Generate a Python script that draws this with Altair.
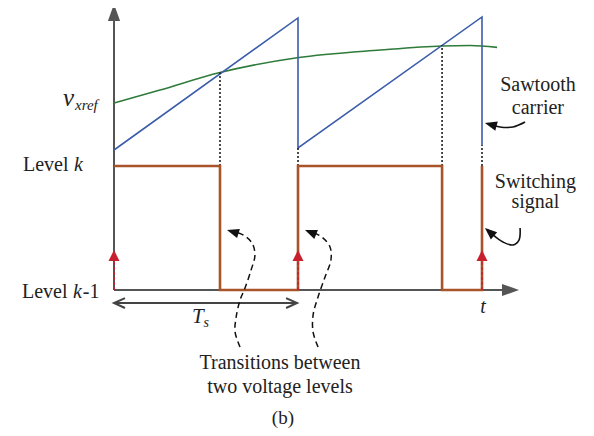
import altair as alt
import pandas as pd

# time axis in switching periods (Ts = 1); signal axis in level units (0 = level k-1, 1 = level k)
ref_t = [0.0, 0.25, 0.576, 0.995, 1.446, 1.783, 1.935, 2.082]
ref_v = [1.508, 1.613, 1.754, 1.873, 1.935, 1.968, 1.972, 1.957]

saw_t = [0.0, 1.0, 1.0, 2.0, 2.0]
saw_v = [1.129, 2.194, 1.145, 2.202, 1.169]

sw_t = [0.0, 0.576, 0.576, 1.0, 1.0, 1.783, 1.783, 2.0, 2.0]
sw_v = [1, 1, 0, 0, 1, 1, 0, 0, 1]

cross_t = [0.576, 1.0, 1.783, 2.0]
cross_v = [1.754, 1.145, 1.973, 1.169]

reset_t = [0.0, 1.0, 2.0]
red_top = 0.24
red_tip = 0.323

axis_t_end = 2.12
axis_v_end = 2.177
axis_t_tip = 2.201
axis_v_tip = 2.306

ts_v = -0.105

c1_t = [0.685, 0.658, 0.663, 0.685, 0.712, 0.745, 0.766, 0.750, 0.701, 0.641]
c1_v = [-0.460, -0.339, -0.226, -0.081, 0.016, 0.161, 0.282, 0.379, 0.444, 0.476]
c2_t = [1.109, 1.082, 1.082, 1.109, 1.147, 1.179, 1.174, 1.130, 1.065]
c2_v = [-0.460, -0.339, -0.202, -0.056, 0.105, 0.242, 0.347, 0.427, 0.476]
dash_tip_t = [0.614, 1.038]
dash_tip_v = [0.484, 0.484]
dash_tip_a = [287, 292]

saw_arrow_t = [2.234, 2.168, 2.098, 2.03]
saw_arrow_v = [1.355, 1.315, 1.315, 1.342]
sw_arrow_t = [2.207, 2.201, 2.168, 2.114, 2.060, 2.028]
sw_arrow_v = [0.5, 0.403, 0.363, 0.387, 0.444, 0.49]
solid_tip_t = [2.016, 2.016]
solid_tip_v = [1.347, 0.5]
solid_tip_a = [285, 311]

BLUE = "#3C5DAA"
GREEN = "#2E7B3A"
BROWN = "#A9532A"
RED = "#C8202F"
GRAY = "#555555"
INK = "#222222"
FONT = "serif"

xs = alt.Scale(domain=[-0.57609, 2.56522], nice=False, zero=False)
ys = alt.Scale(domain=[-1.1129, 2.27419], nice=False, zero=False)


def X(field="t"):
    return alt.X(f"{field}:Q", scale=xs, axis=None)


def Y(field="v"):
    return alt.Y(f"{field}:Q", scale=ys, axis=None)


def frame(ts, vs, groups=None):
    d = pd.DataFrame({"t": ts, "v": vs})
    d["i"] = range(len(d))
    d["g"] = groups if groups is not None else 0
    return d


def line(df, color, width, dash=None, interp="linear"):
    kw = dict(color=color, strokeWidth=width, interpolate=interp, strokeCap="butt", clip=False)
    if dash:
        kw["strokeDash"] = dash
    return alt.Chart(df).mark_line(**kw).encode(x=X(), y=Y(), order="i:Q", detail="g:N")


HEAD = "M0,0L0.4,1L-0.4,1Z"
CHEVRON = "M-1,-0.45L0,0L-1,0.45"


def heads(ts, vs, angles, color, size, shape=HEAD, filled=True, sw=0):
    out = []
    for t, v, a in zip(ts, vs, angles):
        d = pd.DataFrame({"t": [t], "v": [v]})
        out.append(alt.Chart(d).mark_point(shape=shape, filled=filled, size=size, color=color,
                                           opacity=1, strokeWidth=sw, angle=a, clip=False).encode(
            x=X(), y=Y()))
    return out


def text(ts, vs, labels, size, italic=False, align="left", color=INK):
    d = pd.DataFrame({"x": ts, "y": vs, "s": labels})
    kw = dict(font=FONT, fontSize=size, align=align, baseline="alphabetic", color=color)
    if italic:
        kw["fontStyle"] = "italic"
    return alt.Chart(d).mark_text(**kw).encode(x=X("x"), y=Y("y"), text="s:N")


layers = []
# axes
layers.append(line(frame([0, axis_t_end], [0, 0]), GRAY, 2))
layers.append(line(frame([0, 0], [0, axis_v_end]), GRAY, 2))
layers += heads([0], [axis_v_tip], [0], GRAY, 1156, shape="M0,0L0.36,1L-0.36,1Z")
layers += heads([axis_t_tip], [0], [90], GRAY, 1156, shape="M0,0L0.36,1L-0.36,1Z")

# reference and carrier
layers.append(line(frame(ref_t, ref_v), GREEN, 1.6, interp="monotone"))
layers.append(line(frame(saw_t, saw_v), BLUE, 1.6))

# dotted projections
dot_t = [t for t in cross_t for _ in (0, 1)]
dot_v = [x for v in cross_v for x in (1, v)]
dot_g = [k for k in range(len(cross_t)) for _ in (0, 1)]
layers.append(line(frame(dot_t, dot_v, dot_g), "#111111", 1.5, dash=[2, 2]))

# switching signal
layers.append(line(frame(sw_t, sw_v), BROWN, 2.6))

# red dashed arrows at carrier resets
rt = [t for t in reset_t for _ in (0, 1)]
rv = [x for _ in reset_t for x in (0, red_top)]
rg = [k for k in range(len(reset_t)) for _ in (0, 1)]
layers.append(line(frame(rt, rv, rg), RED, 1.6, dash=[3, 2]))
layers += heads(reset_t, [red_tip] * 3, [0] * 3, RED, 484, shape="M0,0L0.5,1L-0.5,1Z")

# Ts double arrow
layers.append(line(frame([0, 0.995], [ts_v, ts_v]), "#444444", 2))
layers += heads([0.995, 0.0], [ts_v, ts_v], [0, 180], "#444444", 484, shape=CHEVRON,
                filled=False, sw=2)

# dashed curved arrows
c_t = c1_t + c2_t
c_v = c1_v + c2_v
c_g = [0] * len(c1_t) + [1] * len(c2_t)
layers.append(line(frame(c_t, c_v, c_g), "#111111", 1.5, dash=[6, 4], interp="catmull-rom"))
layers += heads(dash_tip_t, dash_tip_v, dash_tip_a, "#111111", 576)

# solid curved arrows
s_t = saw_arrow_t + sw_arrow_t
s_v = saw_arrow_v + sw_arrow_v
s_g = [0] * len(saw_arrow_t) + [1] * len(sw_arrow_t)
layers.append(line(frame(s_t, s_v, s_g), "#111111", 1.6, interp="catmull-rom"))
layers += heads(solid_tip_t, solid_tip_v, solid_tip_a, "#111111", 576)

# labels
layers.append(text([-0.277], [1.484], ["v"], 25, True))
layers.append(text([-0.212], [1.452], ["xref"], 15, True))
layers.append(text([-0.495, -0.5], [0.962, -0.065], ["Level", "Level"], 20))
layers.append(text([-0.217, -0.223], [0.962, -0.065], ["k", "k"], 20, True))
layers.append(text([-0.17], [-0.065], ["-1"], 20))
layers.append(text([0.424], [-0.266], ["T"], 21, True))
layers.append(text([0.487], [-0.298], ["s"], 14, True))
layers.append(text([2.005], [-0.185], ["t"], 20, True, align="center"))
layers.append(text([2.304, 2.304], [1.605, 1.419], ["Sawtooth", "carrier"], 20, align="center"))
layers.append(text([2.29, 2.29], [0.823, 0.661], ["Switching", "signal"], 20, align="center"))
layers.append(text([0.902, 0.902], [-0.637, -0.831],
                   ["Transitions between", "two voltage levels"], 20, align="center"))
layers.append(text([0.918], [-1.08], ["(b)"], 19, align="center"))

chart = alt.layer(*layers).properties(
    width=578, height=420, autosize="none", padding=0
).configure_view(stroke=None)

chart.save("out.html", embed_options={"renderer": "svg", "actions": False})
